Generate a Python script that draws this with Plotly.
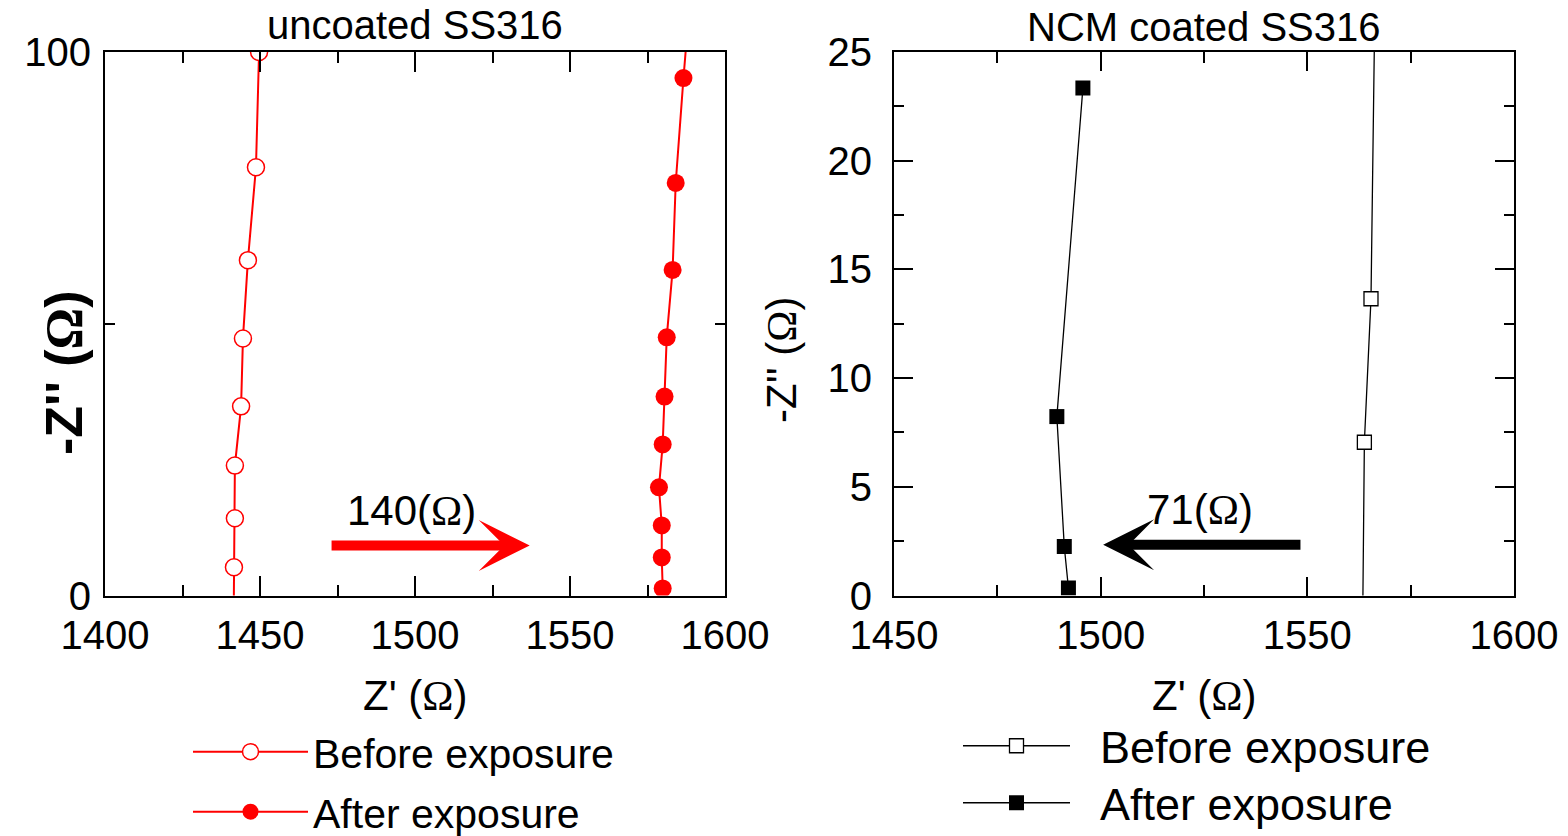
import plotly.graph_objects as go

# ---------------- data ----------------
# Left panel: uncoated SS316  (Z' real, -Z'' imaginary, Ohm)
unc_before_zr = [1441.5, 1441.6, 1441.9, 1441.9, 1443.9, 1444.5, 1446.1, 1448.7, 1449.7]
unc_before_zi = [-5.0, 5.2, 14.2, 23.9, 34.8, 47.3, 61.7, 78.8, 100.0]
unc_after_zr = [1579.9, 1579.6, 1579.6, 1578.7, 1579.9, 1580.5, 1581.2, 1583.1, 1584.1, 1586.6, 1589.6]
unc_after_zi = [1.3, 7.0, 12.9, 19.9, 27.8, 36.6, 47.5, 59.9, 75.9, 95.2, 116.0]

# Right panel: NCM coated SS316
ncm_before_zr = [1563.4, 1563.8, 1565.4, 1566.4]
ncm_before_zi = [-1.0, 7.05, 13.65, 28.0]
ncm_after_zr = [1492.2, 1491.2, 1489.4, 1495.7]
ncm_after_zi = [0.34, 2.25, 8.23, 23.34]

series_names = ["Before exposure", "After exposure"]
panel_titles = ["uncoated SS316", "NCM coated SS316"]
shift_labels = ["140", "71"]
# arrow endpoints (Z', -Z'') : tail -> head
arrow_left = dict(tail=(1472.6, 9.2), head=(1537.0, 9.2))
arrow_right = dict(tail=(1548.7, 2.33), head=(1500.6, 2.33))

FONT = "Liberation Sans, Arial, sans-serif"
SERIF = "Liberation Serif, Times New Roman, serif"
OMEGA = f'<span style="font-family:{SERIF}">Ω</span>'
NB = "\u00a0"

fig = go.Figure()

RED = "#ff0000"
fig.add_trace(go.Scatter(x=unc_before_zr, y=unc_before_zi, mode="lines+markers",
                         name=series_names[0], xaxis="x", yaxis="y", legend="legend",
                         line=dict(color=RED, width=2),
                         marker=dict(symbol="circle", size=17, color="white",
                                     line=dict(color=RED, width=1.5))))
fig.add_trace(go.Scatter(x=unc_after_zr, y=unc_after_zi, mode="lines+markers",
                         name=series_names[1], xaxis="x", yaxis="y", legend="legend2",
                         line=dict(color=RED, width=2),
                         marker=dict(symbol="circle", size=18, color=RED,
                                     line=dict(color=RED, width=0))))
fig.add_trace(go.Scatter(x=ncm_before_zr, y=ncm_before_zi, mode="lines+markers",
                         name=NB * 2 + series_names[0], xaxis="x2", yaxis="y2", legend="legend3",
                         line=dict(color="black", width=1.3),
                         marker=dict(symbol="square", size=14, color="white",
                                     line=dict(color="black", width=1.3))))
fig.add_trace(go.Scatter(x=ncm_after_zr, y=ncm_after_zi, mode="lines+markers",
                         name=NB * 2 + series_names[1], xaxis="x2", yaxis="y2", legend="legend4",
                         line=dict(color="black", width=1.3),
                         marker=dict(symbol="square", size=15, color="black",
                                     line=dict(color="black", width=0))))

W, H = 1568, 836
ydom = [1 - 595.5 / H, 1 - 52 / H]

axis_common = dict(showline=True, linewidth=2, linecolor="black", mirror="allticks",
                   ticks="inside", tickwidth=2, tickcolor="black", showgrid=False,
                   zeroline=False, automargin=False,
                   tickfont=dict(family=FONT, size=40, color="black"))

fig.update_layout(
    width=W, height=H, margin=dict(l=0, r=0, t=0, b=0, autoexpand=False),
    plot_bgcolor="white", paper_bgcolor="white",
    font=dict(family=FONT, color="black"),
    xaxis=dict(domain=[105 / W, 725 / W], range=[1400, 1600], anchor="y",
               tickvals=[1400, 1450, 1500, 1550, 1600], ticklen=20,
               minor=dict(dtick=25, tick0=1400, ticklen=11, tickwidth=2, ticks="inside", tickcolor="black"),
               ticklabelstandoff=3, **axis_common),
    yaxis=dict(domain=ydom, range=[0, 100], anchor="x",
               tickvals=[0, 100], ticklen=20,
               minor=dict(dtick=50, tick0=0, ticklen=10, tickwidth=2, ticks="inside", tickcolor="black"),
               ticklabelstandoff=4, **axis_common),
    xaxis2=dict(domain=[894 / W, 1514 / W], range=[1450, 1600], anchor="y2",
                tickvals=[1450, 1500, 1550, 1600], ticklen=19,
                minor=dict(dtick=25, tick0=1450, ticklen=11, tickwidth=2, ticks="inside", tickcolor="black"),
                ticklabelstandoff=3, **axis_common),
    yaxis2=dict(domain=ydom, range=[0, 25], anchor="x2",
                tickvals=[0, 5, 10, 15, 20, 25], ticklen=19,
                minor=dict(dtick=2.5, tick0=0, ticklen=10, tickwidth=2, ticks="inside", tickcolor="black"),
                ticklabelstandoff=12, **axis_common),
)

leg_common = dict(bgcolor="rgba(0,0,0,0)", borderwidth=0, xanchor="left", yanchor="middle",
                  itemclick=False, itemdoubleclick=False)
fig.update_layout(
    showlegend=True,
    legend=dict(x=188 / W, y=1 - 752 / H, itemwidth=115,
                font=dict(family=FONT, size=41, color="black"), **leg_common),
    legend2=dict(x=188 / W, y=1 - 812 / H, itemwidth=115,
                 font=dict(family=FONT, size=41, color="black"), **leg_common),
    legend3=dict(x=958 / W, y=1 - 746 / H, itemwidth=107,
                 font=dict(family=FONT, size=45, color="black"), **leg_common),
    legend4=dict(x=958 / W, y=1 - 803 / H, itemwidth=107,
                 font=dict(family=FONT, size=45, color="black"), **leg_common),
)

ann = []
# panel titles
ann.append(dict(text=panel_titles[0], xref="paper", yref="paper", x=415 / W, y=1 - 25 / H,
                showarrow=False, font=dict(family=FONT, size=40), xanchor="center", yanchor="middle"))
ann.append(dict(text=panel_titles[1], xref="paper", yref="paper", x=1204 / W, y=1 - 27 / H,
                showarrow=False, font=dict(family=FONT, size=40), xanchor="center", yanchor="middle"))
# x axis titles
for cx in (415, 1204):
    ann.append(dict(text=f"Z' ({OMEGA})", xref="paper", yref="paper", x=cx / W, y=1 - 695 / H,
                    showarrow=False, font=dict(family=FONT, size=42), xanchor="center", yanchor="middle"))
# y axis titles
ann.append(dict(text=f"<b>-Z'' ({OMEGA})</b>", xref="paper", yref="paper", x=64 / W, y=1 - 372 / H,
                showarrow=False, textangle=-90, font=dict(family=FONT, size=52),
                xanchor="center", yanchor="middle"))
ann.append(dict(text=f"-Z'' ({OMEGA})", xref="paper", yref="paper", x=781 / W, y=1 - 360 / H,
                showarrow=False, textangle=-90, font=dict(family=FONT, size=42),
                xanchor="center", yanchor="middle"))
# arrows
ann.append(dict(x=arrow_left["head"][0], y=arrow_left["head"][1], ax=arrow_left["tail"][0],
                ay=arrow_left["tail"][1], xref="x", yref="y", axref="x", ayref="y", text="",
                showarrow=True, arrowhead=3, arrowsize=0.85, arrowwidth=10, arrowcolor=RED, standoff=0))
ann.append(dict(x=arrow_right["head"][0], y=arrow_right["head"][1], ax=arrow_right["tail"][0],
                ay=arrow_right["tail"][1], xref="x2", yref="y2", axref="x2", ayref="y2", text="",
                showarrow=True, arrowhead=3, arrowsize=0.85, arrowwidth=10, arrowcolor="black", standoff=0))
# shift labels
ann.append(dict(text=f"{shift_labels[0]}({OMEGA})", xref="x", yref="y", x=1499, y=15.7,
                showarrow=False, font=dict(family=FONT, size=42), xanchor="center", yanchor="middle"))
ann.append(dict(text=f"{shift_labels[1]}({OMEGA})", xref="x2", yref="y2", x=1524, y=3.94,
                showarrow=False, font=dict(family=FONT, size=42), xanchor="center", yanchor="middle"))
fig.update_layout(annotations=ann)

fig.write_html("out.html")
